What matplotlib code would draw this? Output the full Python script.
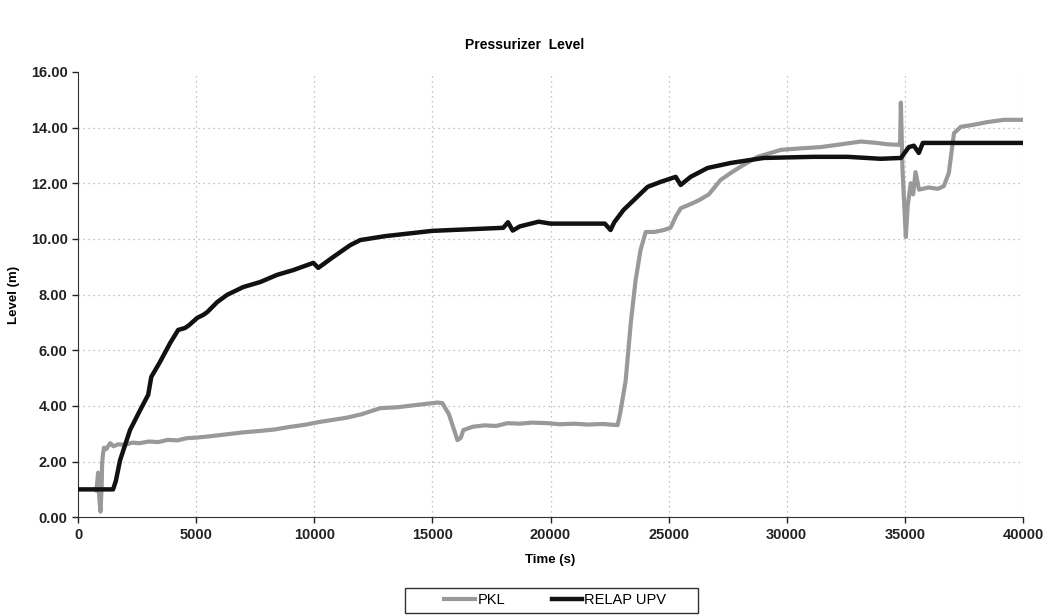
import numpy as np
import matplotlib
matplotlib.use("Agg")
import matplotlib.pyplot as plt
from matplotlib.patches import Rectangle

plt.rcParams['font.family'] = ['Liberation Sans', 'DejaVu Sans']

# PKL measured level (time s, level m)
pkl_t = [720, 780, 850, 900, 950, 1000, 1020, 1060, 1100, 1200, 1360, 1500, 1700, 2000, 2300,
         2600, 3000, 3400, 3800, 4200, 4600, 5000, 5500, 6000, 6500, 7000, 7700, 8300,
         9000, 9600, 10200, 10800, 11400, 12000, 12800, 13500, 14200, 14800, 15210,
         15420, 15700, 16060, 16200, 16310, 16700, 17200, 17700, 18180, 18700, 19200,
         19870, 20400, 21000, 21600, 22200, 22840, 22950, 23180, 23400, 23600, 23810,
         24030, 24400, 24800, 25080, 25300, 25510, 26060, 26300, 26700, 27200, 27630,
         28050, 28770, 29750, 30500, 31440, 32300, 33140, 33800, 34280, 34750, 34800,
         34830, 34900, 35040, 35120, 35250, 35350, 35450, 35600, 36000, 36400, 36650,
         36860, 37080, 37370, 37900, 38500, 39200, 40000]
pkl_lv = [1.00, 0.95, 1.60, 0.70, 0.20, 1.10, 1.94, 2.30, 2.50, 2.45, 2.66, 2.55, 2.62, 2.60, 2.68,
          2.66, 2.72, 2.70, 2.78, 2.76, 2.84, 2.86, 2.90, 2.95, 3.00, 3.05, 3.10, 3.15,
          3.25, 3.32, 3.42, 3.50, 3.58, 3.70, 3.92, 3.95, 4.02, 4.08, 4.12,
          4.10, 3.70, 2.77, 2.85, 3.13, 3.25, 3.30, 3.28, 3.38, 3.36, 3.40,
          3.38, 3.34, 3.36, 3.33, 3.35, 3.31, 3.74, 4.90, 7.00, 8.50, 9.60,
          10.25, 10.25, 10.32, 10.40, 10.80, 11.10, 11.30, 11.40, 11.60, 12.12, 12.37,
          12.60, 12.95, 13.20, 13.25, 13.30, 13.40, 13.50, 13.45, 13.40, 13.38, 13.50,
          14.90, 12.50, 10.07, 11.20, 12.00, 11.60, 12.40, 11.77, 11.85, 11.80, 11.90,
          12.37, 13.80, 14.03, 14.10, 14.20, 14.28, 14.28]

# RELAP UPV calculated level
relap_t = [0, 1483, 1600, 1780, 2200, 2600, 2970, 3100, 3470, 3900, 4240, 4530, 4700, 5040,
           5300, 5470, 5890, 6310, 6990, 7710, 8430, 9110, 9960, 10170, 10800, 11530,
           11950, 13000, 15000, 18000, 18200, 18400, 18700, 19500, 20000, 22300, 22540,
           22700, 23090, 24110, 24660, 25300, 25510, 25930, 26650, 27630, 29030, 31140,
           32580, 33980, 34830, 35170, 35380, 35590, 35760, 37000, 40000]
relap_lv = [1.00, 1.00, 1.30, 2.05, 3.13, 3.80, 4.40, 5.04, 5.58, 6.26, 6.73, 6.80, 6.90, 7.16,
            7.27, 7.37, 7.73, 7.99, 8.27, 8.45, 8.71, 8.88, 9.14, 8.96, 9.35, 9.78,
            9.96, 10.10, 10.29, 10.40, 10.60, 10.30, 10.45, 10.62, 10.55, 10.55, 10.32,
            10.60, 11.04, 11.87, 12.05, 12.23, 11.94, 12.23, 12.55, 12.73, 12.91, 12.95,
            12.95, 12.88, 12.91, 13.30, 13.35, 13.09, 13.45, 13.45, 13.45]

x_ticks = np.arange(0, 40001, 5000)
y_ticks = np.arange(0, 16.01, 2)

fig = plt.figure(figsize=(10.46, 6.15), dpi=100)
ax = fig.add_axes([0.0746, 0.159, 0.9034, 0.724])

ax.plot(pkl_t, pkl_lv, color='#999999', lw=3.0, label='PKL', zorder=3)
ax.plot(relap_t, relap_lv, color='#111111', lw=3.2, label='RELAP UPV', zorder=4)

ax.set_xlim(0, 40000)
ax.set_ylim(0, 16)
ax.set_xticks(x_ticks)
ax.set_yticks(y_ticks)
ax.set_yticklabels(['%.2f' % v for v in y_ticks])
ax.tick_params(labelsize=10.5, length=4, width=1, colors='#222222')
for lbl in ax.get_xticklabels() + ax.get_yticklabels():
    lbl.set_fontweight('bold')

for v in x_ticks[1:]:
    ax.axvline(v, color='#b0b0b0', lw=0.9, ls=(0, (1, 3)), zorder=1)
for v in y_ticks[1:-1]:
    ax.axhline(v, color='#b0b0b0', lw=0.9, ls=(0, (1, 3)), zorder=1)

ax.spines['top'].set_visible(False)
ax.spines['right'].set_visible(False)
ax.spines['left'].set_color('#333333')
ax.spines['bottom'].set_color('#333333')

ax.set_xlabel('Time (s)', fontsize=9.5, fontweight='bold', labelpad=9)
ax.set_ylabel('Level (m)', fontsize=9.5, fontweight='bold', labelpad=8)
fig.text(0.502, 0.927, 'Pressurizer  Level', ha='center', va='center',
         fontsize=10, fontweight='bold')

# legend entries without frame, box drawn separately
leg = fig.legend(loc='center', bbox_to_anchor=(0.531, 0.024), ncol=2, frameon=False,
                 fontsize=10.5, handlelength=2.1, handletextpad=0.15, columnspacing=3.2)
fig.patches.append(Rectangle((405 / 1046, 2 / 615), 293 / 1046, 25 / 615,
                             transform=fig.transFigure, fill=False,
                             edgecolor='#333333', lw=1.0))

fig.savefig('out.png', dpi=100)
